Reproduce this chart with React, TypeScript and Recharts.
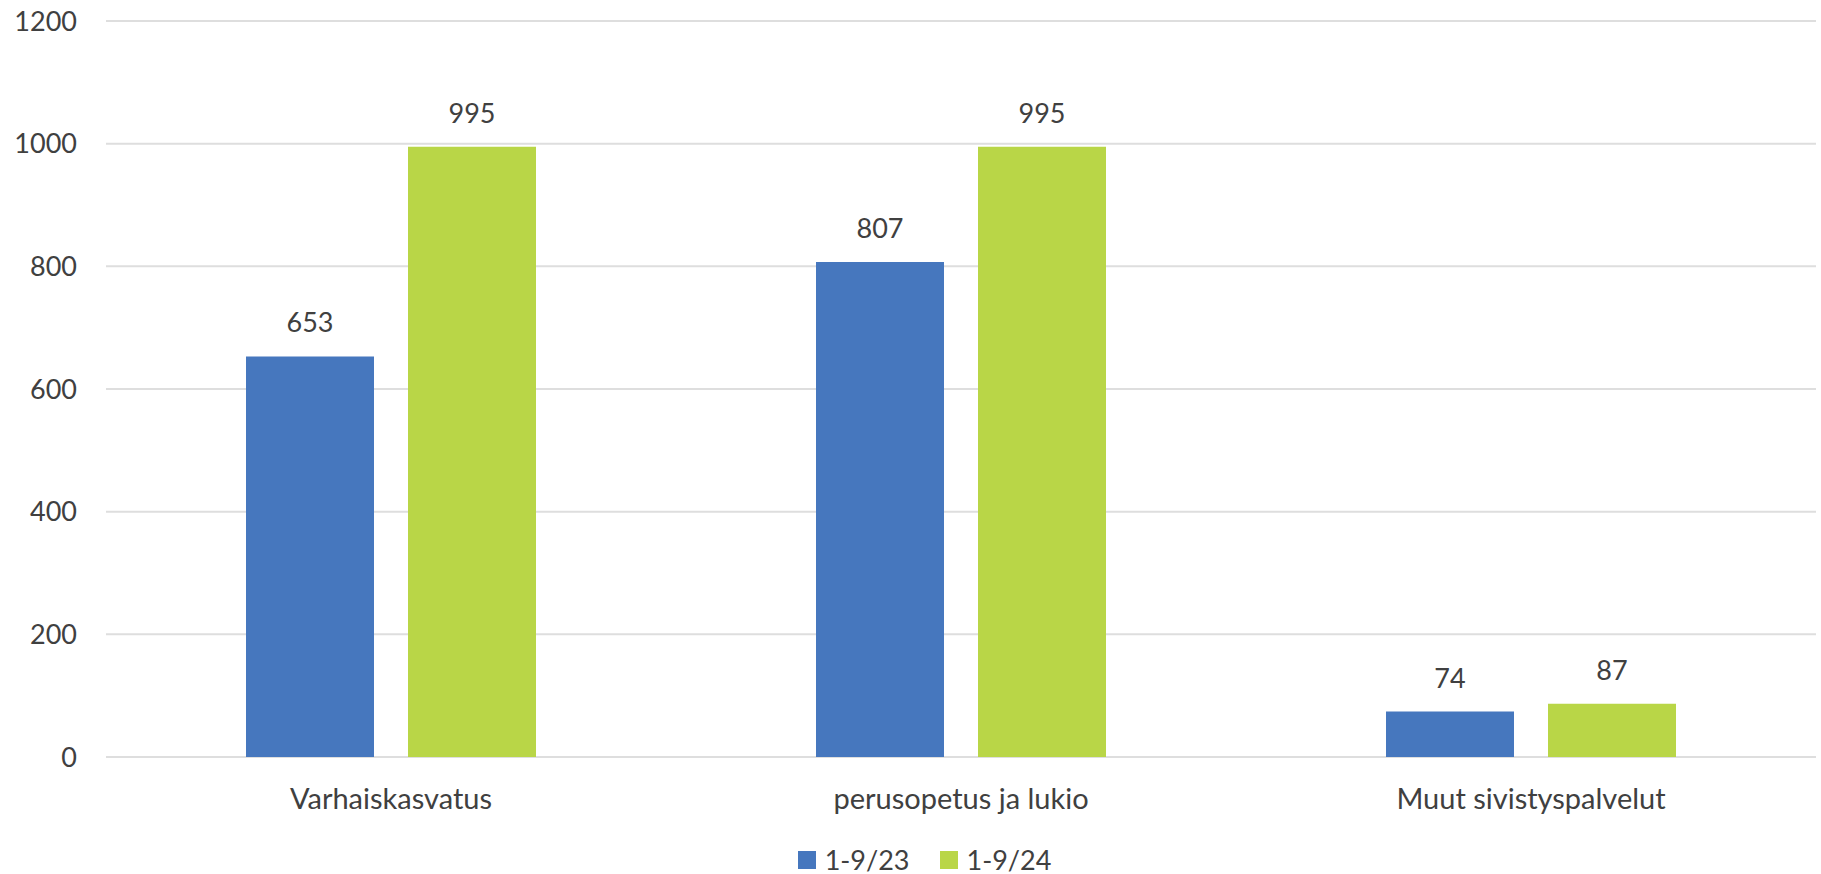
import React from 'react'
import { BarChart, Bar, XAxis, YAxis, CartesianGrid, Legend, LabelList } from 'recharts'

const categories = ['Varhaiskasvatus', 'perusopetus ja lukio', 'Muut sivistyspalvelut']
const values2023 = [653, 807, 74]
const values2024 = [995, 995, 87]
const yTicks = [0, 200, 400, 600, 800, 1000, 1200]

const SERIES = [
  { key: 'v23', name: '1-9/23', color: '#4677BE' },
  { key: 'v24', name: '1-9/24', color: '#B9D647' },
]
const TEXT = '#404040'
const GRID = '#DEDEDE'
const FONT = 'Lato, "Open Sans", sans-serif'

const data = categories.map((name, i) => ({ name, v23: values2023[i], v24: values2024[i] }))

function LegendContent() {
  return (
    <div
      style={{
        display: 'flex',
        justifyContent: 'center',
        alignItems: 'center',
        gap: 30,
        paddingLeft: 28,
        fontFamily: FONT,
        fontSize: 27,
        color: TEXT,
      }}
    >
      {SERIES.map((s) => (
        <div key={s.key} style={{ display: 'flex', alignItems: 'center', gap: 9 }}>
          <span style={{ width: 18, height: 18, background: s.color, display: 'inline-block' }} />
          <span>{s.name}</span>
        </div>
      ))}
    </div>
  )
}

export default function App() {
  return (
    <div style={{ position: 'absolute', left: 0, top: 0, width: 1821, height: 874, background: '#fff' }}>
      <BarChart
        width={1821}
        height={874}
        data={data}
        margin={{ top: 21, right: 5, bottom: 57, left: 0 }}
        barGap={34}
        style={{ fontFamily: FONT }}
      >
        <CartesianGrid vertical={false} stroke={GRID} strokeWidth={2} />
        <XAxis
          dataKey="name"
          height={60}
          tickLine={false}
          axisLine={false}
          tickSize={0}
          tickMargin={31}
          tick={{ fill: TEXT, fontSize: 29 }}
        />
        <YAxis
          width={106}
          domain={[0, 1200]}
          ticks={yTicks}
          tickLine={false}
          axisLine={false}
          tickSize={0}
          tickMargin={29}
          tick={{ fill: TEXT, fontSize: 27 }}
        />
        <Legend
          verticalAlign="middle"
          align="center"
          layout="horizontal"
          content={<LegendContent />}
          wrapperStyle={{ top: 843, left: 0, width: 1821 }}
        />
        {SERIES.map((s) => (
          <Bar key={s.key} dataKey={s.key} name={s.name} fill={s.color} barSize={128} isAnimationActive={false}>
            <LabelList dataKey={s.key} position="top" offset={24} fill={TEXT} fontSize={27} />
          </Bar>
        ))}
      </BarChart>
    </div>
  )
}
